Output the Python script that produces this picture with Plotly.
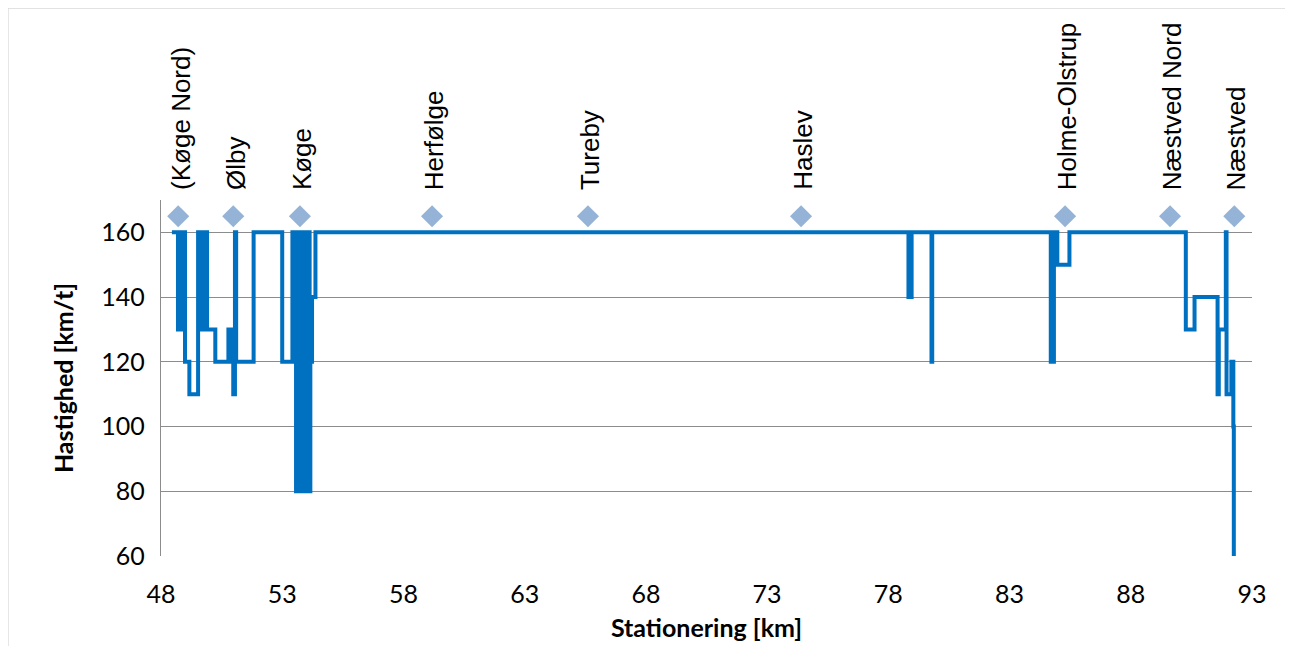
import plotly.graph_objects as go

# Speed profile (step line): speed holds from each station value until the next
station_km = [48.45, 48.70, 48.73, 48.76, 48.79, 48.82, 48.85, 48.88, 48.91, 48.94, 48.97, 48.99,
              49.17, 49.53, 49.67, 49.70, 49.73, 49.76, 49.79, 49.82, 49.85, 49.88, 49.90,
              50.24, 50.78, 50.81, 50.84, 50.87, 50.90, 50.93, 50.96, 50.98, 51.05, 51.10,
              51.82, 53.00, 53.42, 53.45, 53.48, 53.51, 53.54, 53.57, 53.61, 53.65, 53.69,
              53.73, 53.77, 53.81, 53.85, 53.89, 53.93, 53.97, 54.01, 54.05, 54.09, 54.13,
              54.16, 54.23, 54.37, 78.83, 78.96, 79.78, 79.81, 84.70, 84.83, 84.97, 85.47,
              90.27, 90.63, 91.58, 91.63, 91.92, 91.95, 92.15, 92.23, 92.25]
speed_kmt = [160, 130, 160, 130, 160, 130, 160, 130, 160, 130, 160, 120,
             110, 160, 130, 160, 130, 160, 130, 160, 130, 160, 130,
             120, 130, 120, 130, 120, 130, 120, 130, 110, 160, 120,
             160, 120, 160, 120, 160, 120, 160, 80, 160, 80, 160,
             80, 160, 80, 160, 80, 160, 80, 160, 80, 160, 80,
             120, 140, 160, 140, 160, 120, 160, 120, 160, 150, 160,
             130, 140, 110, 130, 160, 110, 120, 100, 60]

# Stations (diamond markers with vertical labels)
station_names = ["(Køge Nord)", "Ølby", "Køge", "Herfølge", "Tureby", "Haslev",
                 "Holme-Olstrup", "Næstved Nord", "Næstved"]
station_pos_km = [48.71, 50.98, 53.73, 59.18, 65.61, 74.40, 85.29, 89.62, 92.27]
marker_level = 165

x_ticks = [48, 53, 58, 63, 68, 73, 78, 83, 88, 93]
y_ticks = [60, 80, 100, 120, 140, 160]

fig = go.Figure()
fig.add_trace(go.Scatter(
    x=station_km, y=speed_kmt, mode="lines", line_shape="hv",
    line=dict(color="#0070C0", width=4), hoverinfo="x+y", showlegend=False))
fig.add_trace(go.Scatter(
    x=station_pos_km, y=[marker_level] * len(station_pos_km), mode="markers",
    marker=dict(symbol="diamond", size=17, color="#95B3D7", line=dict(width=0)),
    text=station_names, hoverinfo="text", showlegend=False))

for name, pos in zip(station_names, station_pos_km):
    fig.add_annotation(x=pos, y=marker_level, xref="x", yref="y", text=name,
                       showarrow=False, textangle=-90, xanchor="center", yanchor="bottom",
                       yshift=24, xshift=2,
                       font=dict(family="Liberation Sans, Arial, sans-serif", size=26, color="black"))

# chart-area border
fig.add_shape(type="rect", xref="paper", yref="paper", x0=-0.1402, x1=1.032, y0=-0.3, y1=1.539,
              line=dict(color="#D9D9D9", width=1.2), fillcolor="rgba(0,0,0,0)", layer="below")

tick_font = dict(family="Lato, Calibri, sans-serif", size=25, color="black")
title_font = dict(family="Lato, Calibri, sans-serif", size=25, color="black", weight="bold")

fig.update_layout(
    width=1293, height=646,
    margin=dict(l=153, r=49, t=192, b=98),
    paper_bgcolor="white", plot_bgcolor="white",
    xaxis=dict(range=[48, 93], tickvals=x_ticks, ticktext=[str(v) for v in x_ticks],
               showgrid=False, zeroline=False, showline=False, ticks="",
               tickfont=tick_font, ticklabelstandoff=21,
               title=dict(text="Stationering [km]", font=title_font, standoff=12)),
    yaxis=dict(range=[60, 170], tickvals=y_ticks, ticktext=[str(v) for v in y_ticks],
               showgrid=True, gridcolor="#8C8C8C", gridwidth=1.3, zeroline=False,
               showline=True, linecolor="#8C8C8C", linewidth=1.3, ticks="",
               tickfont=tick_font, ticklabelstandoff=10,
               title=dict(text="Hastighed [km/t]", font=title_font, standoff=20)),
)

fig.write_html("out.html")
